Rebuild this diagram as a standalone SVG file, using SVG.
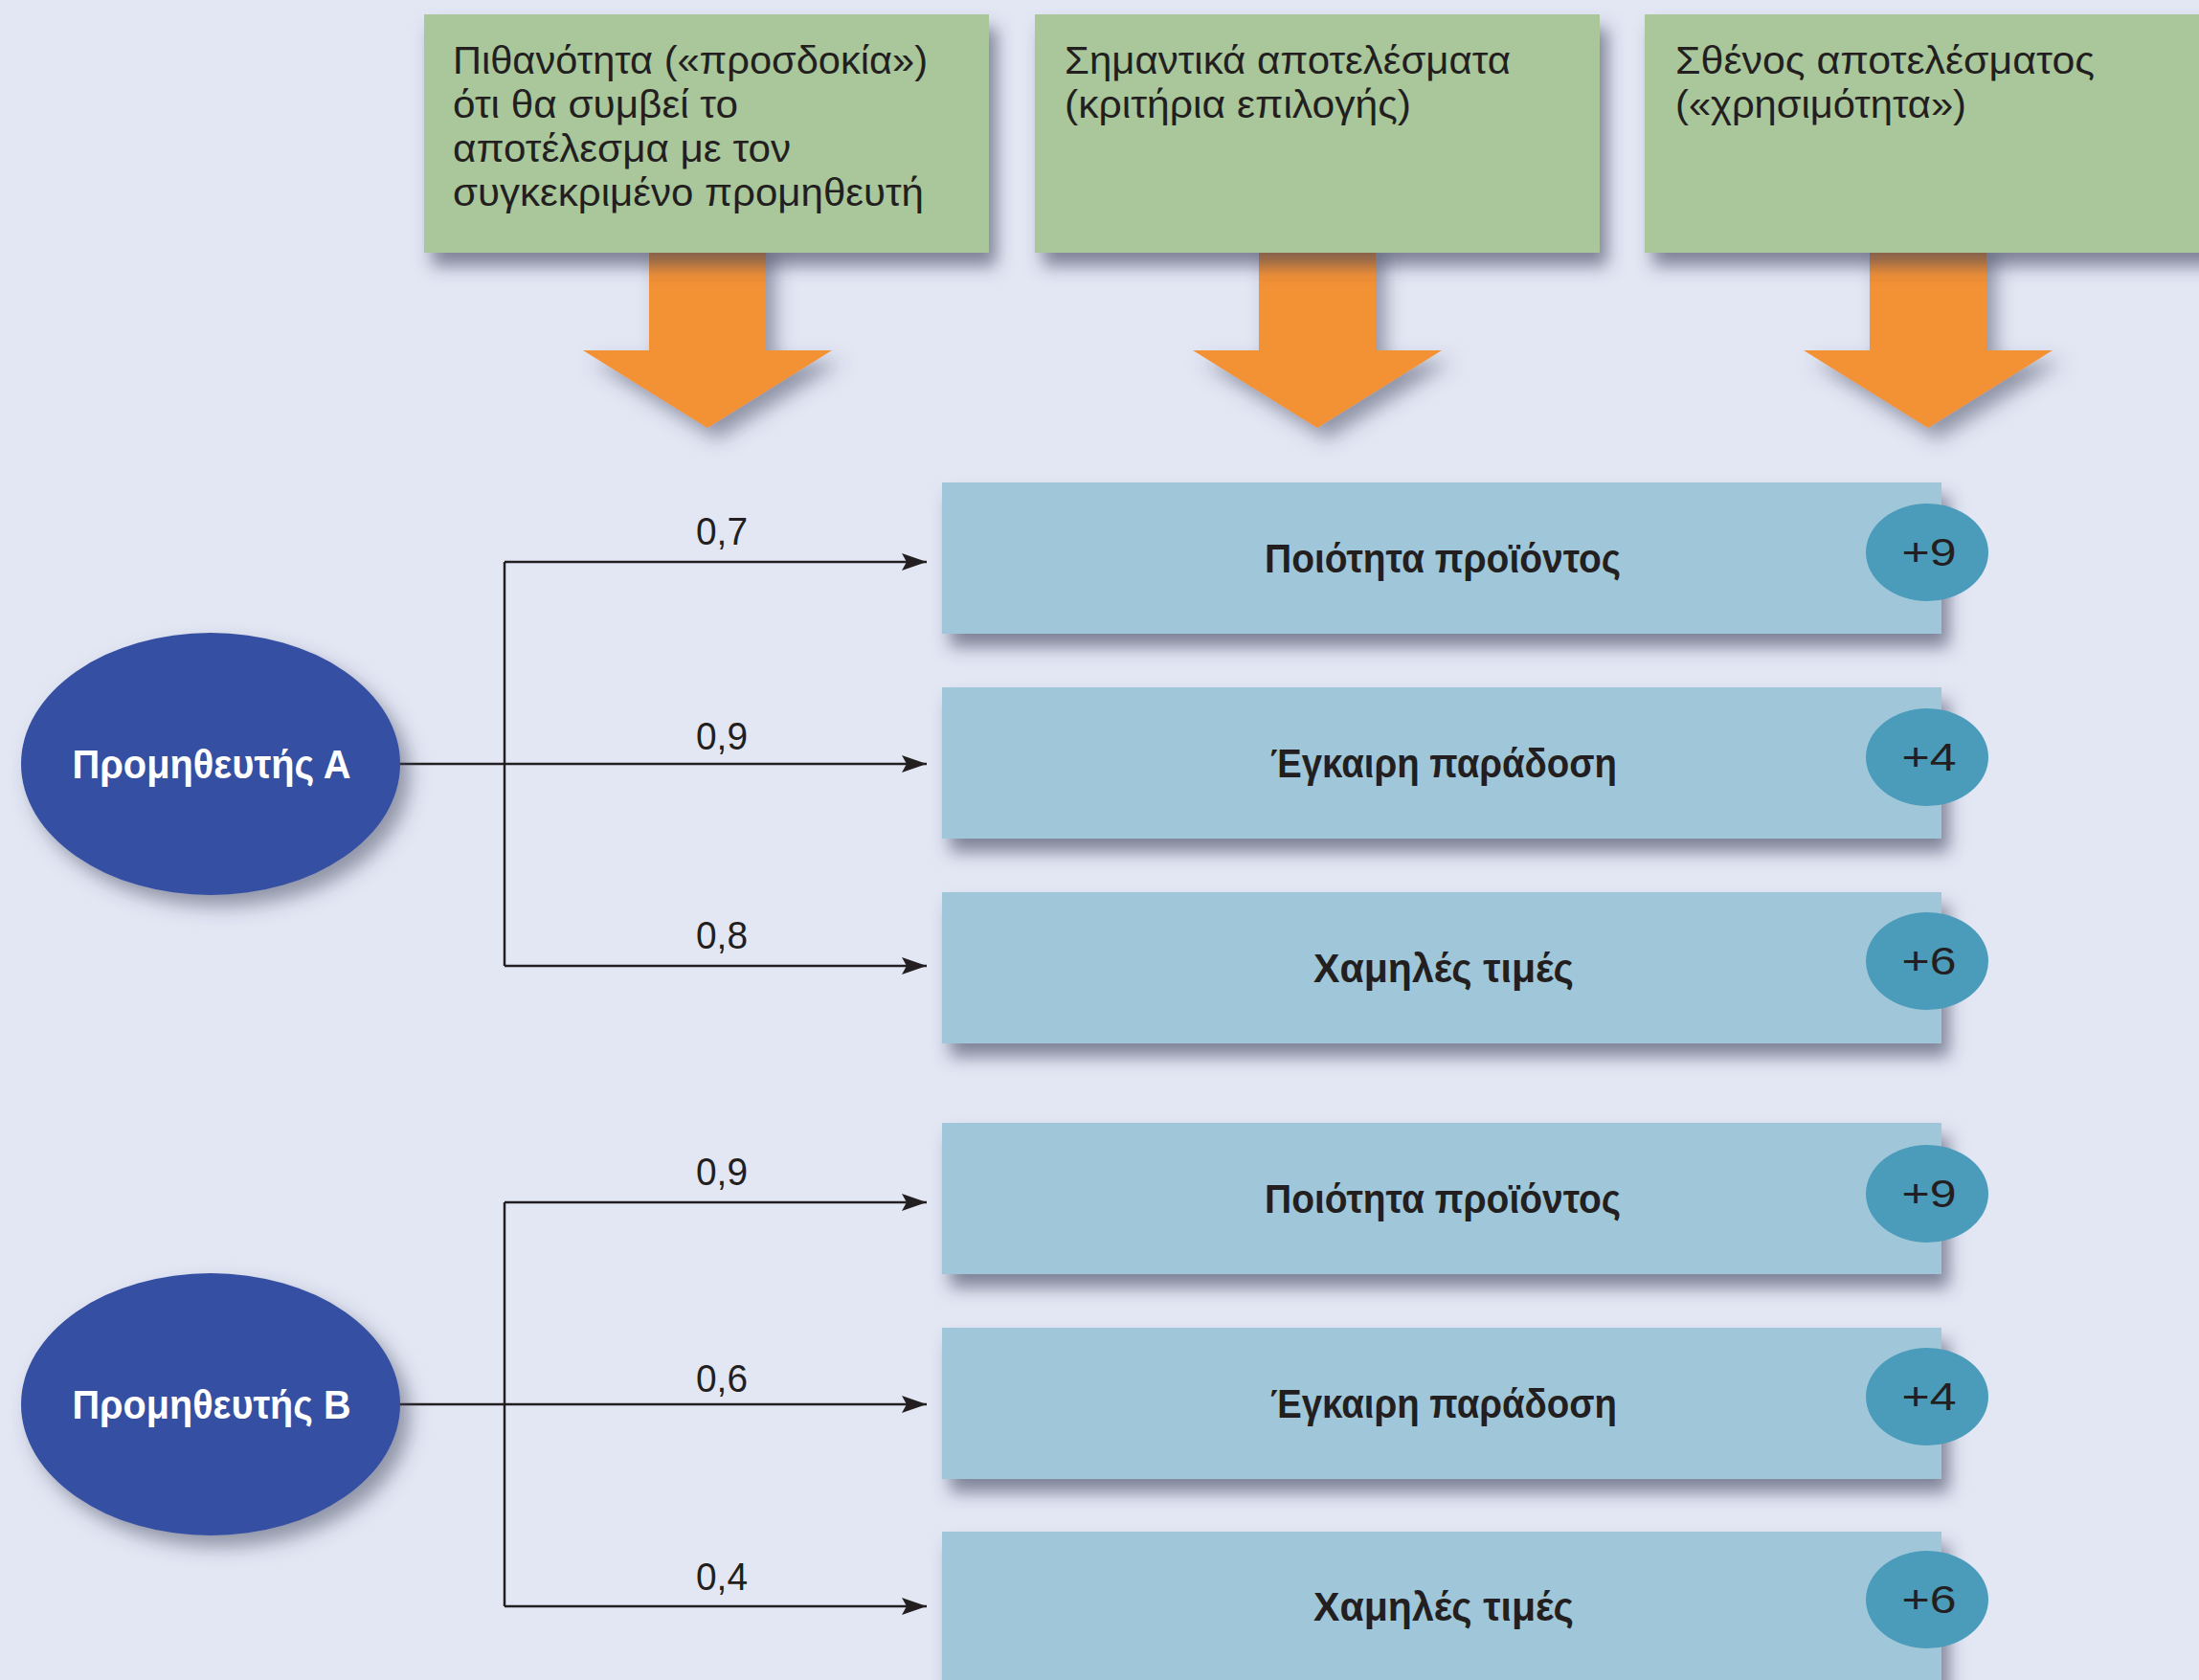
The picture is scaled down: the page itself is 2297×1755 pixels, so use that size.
<svg xmlns="http://www.w3.org/2000/svg" width="2297" height="1755" viewBox="0 0 2297 1755">
<defs>
<filter id="sh" x="-10%" y="-15%" width="130%" height="150%">
<feDropShadow dx="8" dy="14" stdDeviation="9" flood-color="#3a3f5a" flood-opacity="0.6"/>
</filter>
<filter id="sh2" x="-15%" y="-15%" width="140%" height="150%">
<feDropShadow dx="10" dy="12" stdDeviation="10" flood-color="#3a3f5a" flood-opacity="0.5"/>
</filter>
<marker id="ah" viewBox="0 0 26 18" refX="26" refY="9" markerWidth="26" markerHeight="18" markerUnits="userSpaceOnUse" orient="auto">
<path d="M0,0 L26,9 L0,18 L5,9 Z" fill="#231F20"/>
</marker>
<style>
.hdr{fill:#A9C79B;filter:url(#sh)}
.htx{font-family:"Liberation Sans",Arial,sans-serif;font-size:40px;fill:#231F20}
.arr{fill:#F39136;filter:url(#sh2)}
.opt{fill:#A0C7D9;filter:url(#sh)}
.otx{font-family:"Liberation Sans",Arial,sans-serif;font-size:42px;font-weight:bold;fill:#231F20;text-anchor:middle}
.bdg{fill:#4B9BBB}
.btx{font-family:"Liberation Sans",Arial,sans-serif;font-size:40px;fill:#231F20;text-anchor:middle}
.sup{fill:#354FA2;filter:url(#sh2)}
.stx{font-family:"Liberation Sans",Arial,sans-serif;font-size:43px;font-weight:bold;fill:#FFFFFF;text-anchor:middle}
.ln{fill:none;stroke:#231F20;stroke-width:2.5}
.pl{font-family:"Liberation Sans",Arial,sans-serif;font-size:40px;fill:#231F20;text-anchor:middle}
</style>
</defs>
<rect x="0" y="0" width="2297" height="1755" fill="#E3E7F4"/>

<g id="arrows-down">
<polygon class="arr" points="678,250 800,250 800,366 869,366 739,447 609,366 678,366"/>
<polygon class="arr" points="1315,250 1437,250 1437,366 1506,366 1376,447 1246,366 1315,366"/>
<polygon class="arr" points="1953,250 2075,250 2075,366 2144,366 2014,447 1884,366 1953,366"/>
</g>

<g id="header-probability">
<rect class="hdr" x="443" y="15" width="590" height="249"/>
<text class="htx" x="473" y="77" textLength="496" lengthAdjust="spacingAndGlyphs">Πιθανότητα («προσδοκία»)</text>
<text class="htx" x="473" y="123" textLength="298" lengthAdjust="spacingAndGlyphs">ότι θα συμβεί το</text>
<text class="htx" x="473" y="169" textLength="353" lengthAdjust="spacingAndGlyphs">αποτέλεσμα με τον</text>
<text class="htx" x="473" y="215" textLength="492" lengthAdjust="spacingAndGlyphs">συγκεκριμένο προμηθευτή</text>
</g>
<g id="header-outcomes">
<rect class="hdr" x="1081" y="15" width="590" height="249"/>
<text class="htx" x="1112" y="77" textLength="466" lengthAdjust="spacingAndGlyphs">Σημαντικά αποτελέσματα</text>
<text class="htx" x="1112" y="123" textLength="362" lengthAdjust="spacingAndGlyphs">(κριτήρια επιλογής)</text>
</g>
<g id="header-utility">
<rect class="hdr" x="1718" y="15" width="600" height="249"/>
<text class="htx" x="1750" y="77" textLength="438" lengthAdjust="spacingAndGlyphs">Σθένος αποτελέσματος</text>
<text class="htx" x="1750" y="123" textLength="304" lengthAdjust="spacingAndGlyphs">(«χρησιμότητα»)</text>
</g>

<g id="connectors">
<path class="ln" d="M527,587 V1009"/>
<path class="ln" d="M527,587 H968" marker-end="url(#ah)"/>
<path class="ln" d="M417,798 H968" marker-end="url(#ah)"/>
<path class="ln" d="M527,1009 H968" marker-end="url(#ah)"/>
<path class="ln" d="M527,1256 V1678"/>
<path class="ln" d="M527,1256 H968" marker-end="url(#ah)"/>
<path class="ln" d="M417,1467 H968" marker-end="url(#ah)"/>
<path class="ln" d="M527,1678 H968" marker-end="url(#ah)"/>
<text class="pl" x="754" y="569" textLength="54" lengthAdjust="spacingAndGlyphs">0,7</text>
<text class="pl" x="754" y="783" textLength="54" lengthAdjust="spacingAndGlyphs">0,9</text>
<text class="pl" x="754" y="991" textLength="54" lengthAdjust="spacingAndGlyphs">0,8</text>
<text class="pl" x="754" y="1238" textLength="54" lengthAdjust="spacingAndGlyphs">0,9</text>
<text class="pl" x="754" y="1454" textLength="54" lengthAdjust="spacingAndGlyphs">0,6</text>
<text class="pl" x="754" y="1661" textLength="54" lengthAdjust="spacingAndGlyphs">0,4</text>
</g>

<g id="outcome-a1">
<rect class="opt" x="984" y="504" width="1044" height="158"/>
<text class="otx" x="1507" y="598" textLength="372" lengthAdjust="spacingAndGlyphs">Ποιότητα προϊόντος</text>
<ellipse class="bdg" cx="2013" cy="577" rx="64" ry="51"/>
<text class="btx" x="2015" y="591" textLength="57" lengthAdjust="spacingAndGlyphs">+9</text>
</g>
<g id="outcome-a2">
<rect class="opt" x="984" y="718" width="1044" height="158"/>
<text class="otx" x="1508" y="812" textLength="362" lengthAdjust="spacingAndGlyphs">Έγκαιρη παράδοση</text>
<ellipse class="bdg" cx="2013" cy="791" rx="64" ry="51"/>
<text class="btx" x="2015" y="805" textLength="57" lengthAdjust="spacingAndGlyphs">+4</text>
</g>
<g id="outcome-a3">
<rect class="opt" x="984" y="932" width="1044" height="158"/>
<text class="otx" x="1508" y="1026" textLength="272" lengthAdjust="spacingAndGlyphs">Χαμηλές τιμές</text>
<ellipse class="bdg" cx="2013" cy="1004" rx="64" ry="51"/>
<text class="btx" x="2015" y="1018" textLength="57" lengthAdjust="spacingAndGlyphs">+6</text>
</g>
<g id="outcome-b1">
<rect class="opt" x="984" y="1173" width="1044" height="158"/>
<text class="otx" x="1507" y="1267" textLength="372" lengthAdjust="spacingAndGlyphs">Ποιότητα προϊόντος</text>
<ellipse class="bdg" cx="2013" cy="1247" rx="64" ry="51"/>
<text class="btx" x="2015" y="1261" textLength="57" lengthAdjust="spacingAndGlyphs">+9</text>
</g>
<g id="outcome-b2">
<rect class="opt" x="984" y="1387" width="1044" height="158"/>
<text class="otx" x="1508" y="1481" textLength="362" lengthAdjust="spacingAndGlyphs">Έγκαιρη παράδοση</text>
<ellipse class="bdg" cx="2013" cy="1459" rx="64" ry="51"/>
<text class="btx" x="2015" y="1473" textLength="57" lengthAdjust="spacingAndGlyphs">+4</text>
</g>
<g id="outcome-b3">
<rect class="opt" x="984" y="1600" width="1044" height="170"/>
<text class="otx" x="1508" y="1693" textLength="272" lengthAdjust="spacingAndGlyphs">Χαμηλές τιμές</text>
<ellipse class="bdg" cx="2013" cy="1671" rx="64" ry="51"/>
<text class="btx" x="2015" y="1685" textLength="57" lengthAdjust="spacingAndGlyphs">+6</text>
</g>

<g id="supplier-a">
<ellipse class="sup" cx="220" cy="798" rx="198" ry="137"/>
<text class="stx" x="221" y="813" textLength="291" lengthAdjust="spacingAndGlyphs">Προμηθευτής Α</text>
</g>
<g id="supplier-b">
<ellipse class="sup" cx="220" cy="1467" rx="198" ry="137"/>
<text class="stx" x="221" y="1482" textLength="291" lengthAdjust="spacingAndGlyphs">Προμηθευτής Β</text>
</g>
</svg>
